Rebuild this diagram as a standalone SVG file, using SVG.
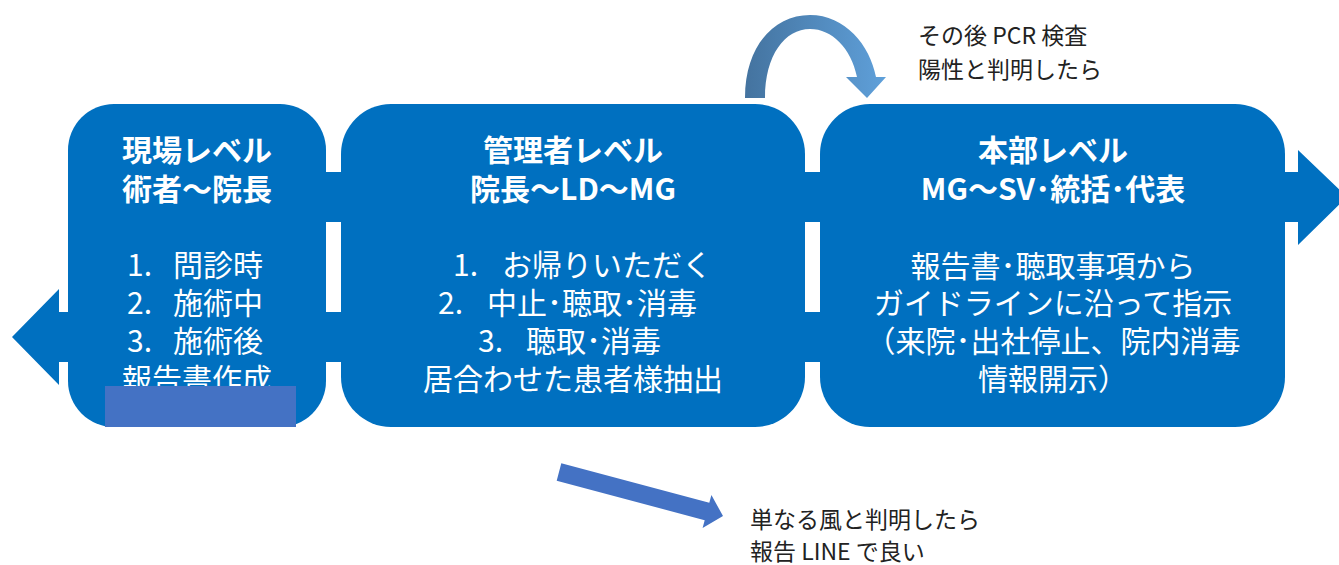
<svg xmlns="http://www.w3.org/2000/svg" width="1339" height="565" viewBox="0 0 1339 565">
<style>
.box{fill:#0070C0}
.band{fill:#0070C0}
.t{font-family:"Noto Sans CJK JP","Noto Sans",sans-serif;fill:#fff;font-size:30px}
.b{font-weight:bold;text-anchor:middle}
.c{text-anchor:middle}
.n{font-family:"Noto Sans CJK JP","Noto Sans",sans-serif;fill:#222;font-size:23px}
</style>
<defs>
<linearGradient id="cg" x1="0" y1="0" x2="1" y2="0">
<stop offset="0" stop-color="#44739F"/>
<stop offset="1" stop-color="#5FA0DA"/>
</linearGradient>
</defs>
<rect width="1339" height="565" fill="#fff"/>
<g id="connectors">
<polygon class="band" points="100,172 1298,172 1298,150 1347,197 1298,245 1298,222 100,222"/>
<polygon class="band" points="1250,312 59,312 59,289 12,337 59,385 59,362 1250,362"/>
<path id="curved-arrow" fill="url(#cg)" d="M745,98 C745,45 775,15 810,15 C845,15 870,45 876,77 L886,77 L867,98 L846,77 L857,77 C851,48 832,29 810,29 C785,29 765,55 765,98 Z"/>
<polygon id="straight-arrow" fill="#4472C4" points="561.3,463.3 709.3,502.8 711.4,495.1 723,516 702.6,527.9 704.7,520.2 556.7,480.7"/>
</g>
<g id="node-genba">
<rect class="box" x="68" y="104" width="258" height="323" rx="46"/>
<text class="t b" x="197" y="161">現場レベル</text>
<text class="t b" x="197" y="200">術者～院長</text>
<text class="t" x="127" y="276">1.</text><text class="t" x="173" y="276">問診時</text>
<text class="t" x="127" y="314">2.</text><text class="t" x="173" y="314">施術中</text>
<text class="t" x="127" y="352">3.</text><text class="t" x="173" y="352">施術後</text>
<text class="t c" x="197" y="390">報告書作成</text>
<rect x="105" y="386" width="191" height="41" fill="#4472C4"/>
</g>
<g id="node-kanri">
<rect class="box" x="341" y="104" width="464" height="323" rx="50"/>
<text class="t b" x="573" y="161">管理者レベル</text>
<text class="t b" x="573" y="200">院長～LD～MG</text>
<text class="t" x="453" y="276">1.</text><text class="t" x="502" y="276">お帰りいただく</text>
<text class="t" x="438" y="314">2.</text><text class="t" x="487" y="314">中止･聴取･消毒</text>
<text class="t" x="478" y="352">3.</text><text class="t" x="526" y="352">聴取･消毒</text>
<text class="t c" x="573" y="390">居合わせた患者様抽出</text>
</g>
<g id="node-honbu">
<rect class="box" x="820" y="104" width="465" height="323" rx="50"/>
<text class="t b" x="1053" y="161">本部レベル</text>
<text class="t b" x="1053" y="200">MG～SV･統括･代表</text>
<text class="t c" x="1053" y="277">報告書･聴取事項から</text>
<text class="t c" x="1053" y="314">ガイドラインに沿って指示</text>
<text class="t c" x="1053" y="352">（来院･出社停止、院内消毒</text>
<text class="t c" x="1053" y="390">情報開示）</text>
</g>
<g id="note-pcr">
<text class="n" x="918" y="44">その後 PCR 検査</text>
<text class="n" x="918" y="78">陽性と判明したら</text>
</g>
<g id="note-cold">
<text class="n" x="750" y="528">単なる風と判明したら</text>
<text class="n" x="750" y="560">報告 LINE で良い</text>
</g>
</svg>
